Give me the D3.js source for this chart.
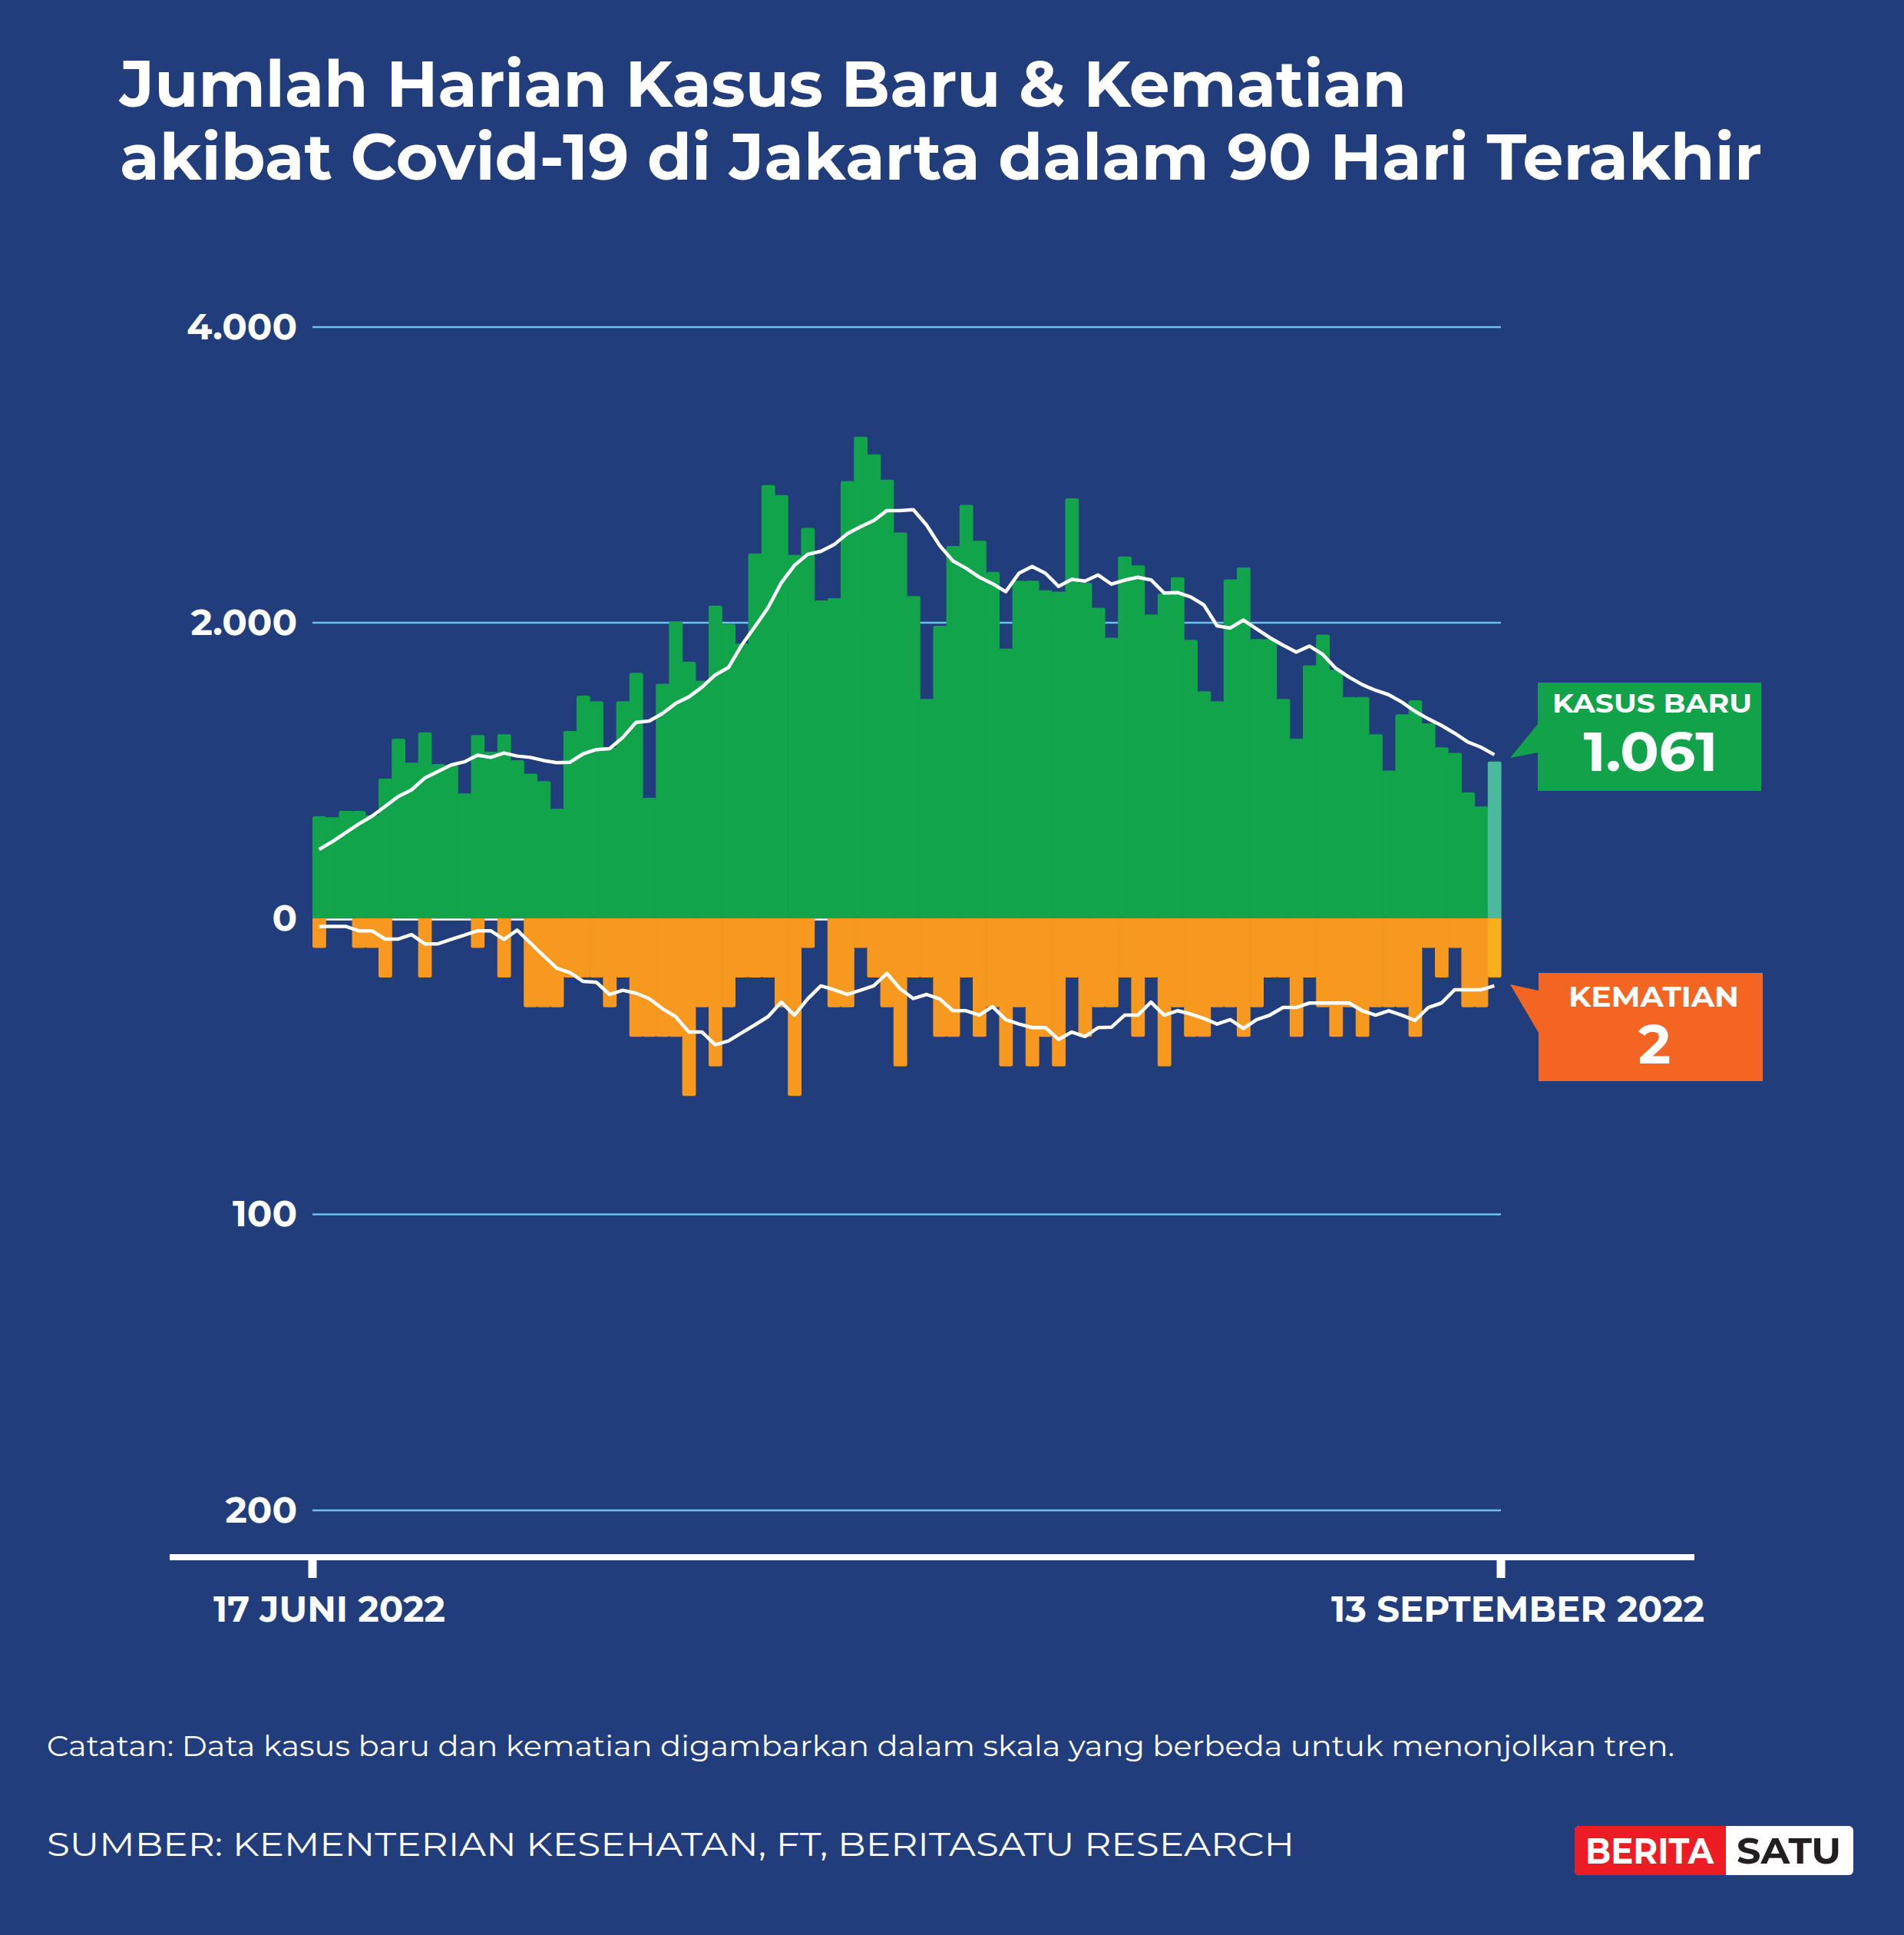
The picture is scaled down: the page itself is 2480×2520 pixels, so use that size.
<!DOCTYPE html>
<html>
<head>
<meta charset="utf-8">
<script src="https://cdn.jsdelivr.net/npm/d3@7"></script>
<style>
  html, body { margin: 0; padding: 0; background: #223d7b; }
  svg { display: block; }
</style>
</head>
<body>
<div id="chart"></div>
<script>
// daily new cases, 17 Jun - 13 Sep 2022 (90 days)
const cases = [
  691, 685, 727, 727, 697, 946, 1216, 1053, 1258, 1044,
  1038, 846, 1240, 1127, 1246, 1070, 979, 929, 742, 1267,
  1507, 1469, 1157, 1469, 1661, 816, 1587, 2009, 1736, 1608,
  2115, 1994, 1860, 2469, 2931, 2863, 2460, 2641, 2151, 2166,
  2958, 3258, 3139, 2967, 2611, 2181, 1484, 1979, 2519, 2798,
  2555, 2344, 1825, 2285, 2285, 2219, 2210, 2842, 2270, 2101,
  1899, 2448, 2388, 2056, 2196, 2308, 1884, 1537, 1469, 2293,
  2374, 1890, 1890, 1484, 1216, 1712, 1920, 1682, 1498, 1498,
  1246, 1000, 1380, 1475, 1320, 1157, 1119, 852, 757, 1061
];
// 7-day average of cases (white line)
const casesAvg = [
  466, 519, 579, 638, 691, 757, 825, 869, 949, 994,
  1038, 1059, 1104, 1089, 1119, 1098, 1089, 1068, 1053, 1056,
  1113, 1142, 1148, 1224, 1326, 1335, 1386, 1454, 1498, 1564,
  1647, 1697, 1848, 1973, 2101, 2270, 2388, 2463, 2483, 2528,
  2602, 2649, 2691, 2759, 2759, 2765, 2661, 2522, 2418, 2368,
  2308, 2264, 2210, 2335, 2380, 2335, 2246, 2293, 2282, 2323,
  2261, 2288, 2308, 2290, 2201, 2204, 2175, 2121, 1979, 1964,
  2018, 1958, 1899, 1848, 1801, 1842, 1786, 1691, 1632, 1581,
  1543, 1513, 1463, 1400, 1350, 1305, 1252, 1193, 1157, 1107
];
// deaths, in the units of the lower axis
const deaths = [
  10, 0, 0, 10, 10, 20, 0, 0, 20, 0,
  0, 0, 10, 0, 20, 0, 30, 30, 30, 20,
  20, 20, 30, 20, 40, 40, 40, 40, 60, 30,
  50, 30, 20, 20, 20, 30, 60, 10, 0, 30,
  30, 10, 20, 30, 50, 20, 20, 40, 40, 20,
  40, 30, 50, 30, 50, 40, 50, 20, 40, 30,
  30, 20, 40, 20, 50, 30, 40, 40, 30, 30,
  40, 30, 20, 20, 40, 20, 30, 40, 30, 40,
  30, 30, 30, 40, 10, 20, 10, 30, 30, 20
];
const deathsAvg = [
  2.7, 2.7, 2.7, 4.2, 4.2, 7.0, 7.0, 5.5, 8.6, 8.6,
  7.1, 5.7, 4.2, 4.2, 7.1, 4.0, 8.3, 12.6, 16.8, 18.3,
  21.3, 21.6, 25.7, 24.3, 25.3, 27.1, 30.5, 33.2, 38.4, 38.4,
  42.7, 41.4, 38.7, 36.0, 33.2, 28.3, 32.7, 27.2, 22.8, 24.1,
  25.7, 24.3, 22.8, 18.6, 23.8, 27.1, 25.7, 27.2, 31.2, 31.2,
  32.7, 29.8, 34.2, 35.7, 36.9, 36.9, 40.9, 38.4, 39.9, 36.9,
  36.8, 32.7, 32.7, 28.3, 32.7, 31.2, 32.3, 33.8, 35.7, 34.2,
  37.2, 34.2, 32.7, 30.1, 30.1, 28.6, 28.6, 28.6, 28.6, 31.2,
  32.7, 31.2, 32.7, 34.5, 30.1, 28.6, 24.1, 24.1, 24.1, 22.8
];
const caseTicks = [0, 2000, 4000];
const deathTicks = [100, 200];
const dateLabels = ['17 JUNI 2022', '13 SEPTEMBER 2022'];
const lastCases = 1061;
const lastDeaths = 2;

const W = 2480, H = 2520;
const BOLD = "Montserrat, 'Noto Sans', sans-serif";

const idID = d3.formatLocale({ decimal: ',', thousands: '.', grouping: [3], currency: ['Rp', ''] });
const fmt = idID.format(',');

const svg = d3.select('#chart').append('svg')
  .attr('width', W).attr('height', H);

svg.append('rect').attr('width', W).attr('height', H).attr('fill', '#223d7b');

// fixes the drawn width of a text to the width it has in the picture
const fit = (sel, w) => sel.attr('textLength', w).attr('lengthAdjust', 'spacingAndGlyphs');

// title
const title = svg.append('g').attr('fill', '#fff')
  .style('font-family', BOLD).style('font-weight', 700).style('font-size', '84px');
title.append('text').attr('x', 156).attr('y', 139).text('Jumlah Harian Kasus Baru & Kematian').call(fit, 1676);
title.append('text').attr('x', 156).attr('y', 234).text('akibat Covid-19 di Jakarta dalam 90 Hari Terakhir').call(fit, 2139);

// scales
const x = d3.scaleBand().domain(d3.range(cases.length)).range([407, 1955]).padding(0);
const yC = d3.scaleLinear().domain([0, 4000]).range([1196, 426]);
const yD = d3.scaleLinear().domain([0, 200]).range([1196, 1967]);
const zero = yC(0);

const defs = svg.append('defs');
defs.append('clipPath').attr('id', 'above').append('rect')
  .attr('x', 0).attr('y', 0).attr('width', W).attr('height', zero);
defs.append('clipPath').attr('id', 'below').append('rect')
  .attr('x', 0).attr('y', zero).attr('width', W).attr('height', H - zero);

// gridlines
const grid = svg.append('g').attr('stroke', '#6cc3ec').attr('stroke-width', 2.5);
grid.selectAll('.gc').data(caseTicks.filter(d => d > 0)).enter().append('line')
  .attr('x1', x.range()[0]).attr('x2', x.range()[1])
  .attr('y1', d => yC(d)).attr('y2', d => yC(d));
grid.selectAll('.gd').data(deathTicks).enter().append('line')
  .attr('x1', x.range()[0]).attr('x2', x.range()[1])
  .attr('y1', d => yD(d)).attr('y2', d => yD(d));

// tick labels
const caseAxis = svg.append('g').attr('transform', `translate(${x.range()[0]},0)`)
  .call(d3.axisLeft(yC).tickValues(caseTicks).tickFormat(fmt).tickSize(0).tickPadding(20));
const deathAxis = svg.append('g').attr('transform', `translate(${x.range()[0]},0)`)
  .call(d3.axisLeft(yD).tickValues(deathTicks).tickFormat(fmt).tickSize(0).tickPadding(20));
[caseAxis, deathAxis].forEach(a => {
  a.select('.domain').remove();
  a.selectAll('text').attr('fill', '#fff')
    .style('font-family', BOLD).style('font-weight', 700).style('font-size', '48px');
});

// case bars
const bw = x.bandwidth();
svg.append('g').attr('clip-path', 'url(#above)')
  .selectAll('rect').data(cases).enter().append('rect')
  .attr('x', (d, i) => x(i))
  .attr('width', bw + 0.6)
  .attr('y', d => yC(d))
  .attr('height', d => zero - yC(d) + 6)
  .attr('rx', 2.5)
  .attr('fill', (d, i) => i === cases.length - 1 ? '#4bb99b' : '#11a44b');

// zero line
svg.append('line')
  .attr('x1', x.range()[0]).attr('x2', x.range()[1])
  .attr('y1', zero + 1.5).attr('y2', zero + 1.5)
  .attr('stroke', '#fff').attr('stroke-width', 2.5);

// death bars
svg.append('g').attr('clip-path', 'url(#below)')
  .selectAll('rect').data(deaths).enter().append('rect')
  .attr('x', (d, i) => x(i))
  .attr('width', bw + 0.6)
  .attr('y', zero - 6)
  .attr('height', d => yD(d) - zero + 6)
  .attr('rx', 2.5)
  .attr('fill', (d, i) => i === deaths.length - 1 ? '#f9ae1d' : '#f7991f');

// 7-day averages
const cx = (d, i) => x(i) + bw / 2;
svg.append('path').datum(casesAvg)
  .attr('d', d3.line().x(cx).y(d => yC(d)))
  .attr('fill', 'none').attr('stroke', '#fff').attr('stroke-width', 4.5).attr('stroke-linejoin', 'round');
svg.append('path').datum(deathsAvg)
  .attr('d', d3.line().x(cx).y(d => yD(d)))
  .attr('fill', 'none').attr('stroke', '#fff').attr('stroke-width', 4.5).attr('stroke-linejoin', 'round');

// date axis
const axisY = 2028;
svg.append('line').attr('x1', 221).attr('x2', 2207).attr('y1', axisY).attr('y2', axisY)
  .attr('stroke', '#fff').attr('stroke-width', 8);
const ends = x.range();
svg.selectAll('.tick-x').data(ends).enter().append('rect')
  .attr('x', d => d - 5.5).attr('y', axisY).attr('width', 11).attr('height', 27).attr('fill', '#fff');
svg.selectAll('.lab-x').data(dateLabels).enter().append('text')
  .attr('x', (d, i) => ends[i] + 22).attr('y', 2112)
  .attr('text-anchor', 'middle').attr('fill', '#fff')
  .style('font-family', BOLD).style('font-weight', 700).style('font-size', '48px')
  .text(d => d)
  .each(function (d, i) { d3.select(this).call(fit, i === 0 ? 302 : 486); });

// callouts
const tipX = ends[1] + 12;
const calloutC = svg.append('g');
calloutC.append('path')
  .attr('d', `M2003,943 L${tipX},${yC(casesAvg[casesAvg.length - 1]) + 4} L2003,980 Z`)
  .attr('fill', '#12a24a');
calloutC.append('rect').attr('x', 2003).attr('y', 889).attr('width', 291).attr('height', 141).attr('fill', '#12a24a');
calloutC.append('text').attr('x', 2152).attr('y', 928).attr('text-anchor', 'middle').attr('fill', '#fff')
  .style('font-family', BOLD).style('font-weight', 700).style('font-size', '35px')
  .text('KASUS BARU').call(fit, 260);
calloutC.append('text').attr('x', 2150).attr('y', 1004).attr('text-anchor', 'middle').attr('fill', '#fff')
  .style('font-family', BOLD).style('font-weight', 700).style('font-size', '72px')
  .text(fmt(lastCases)).call(fit, 175);

const calloutD = svg.append('g');
calloutD.append('path')
  .attr('d', `M2004,1290 L${tipX},${yD(deathsAvg[deathsAvg.length - 1]) - 2} L2004,1345 Z`)
  .attr('fill', '#f26522');
calloutD.append('rect').attr('x', 2004).attr('y', 1267).attr('width', 292).attr('height', 141).attr('fill', '#f26522');
calloutD.append('text').attr('x', 2154).attr('y', 1311).attr('text-anchor', 'middle').attr('fill', '#fff')
  .style('font-family', BOLD).style('font-weight', 700).style('font-size', '36px')
  .text('KEMATIAN').call(fit, 222);
calloutD.append('text').attr('x', 2155).attr('y', 1385).attr('text-anchor', 'middle').attr('fill', '#fff')
  .style('font-family', BOLD).style('font-weight', 700).style('font-size', '72px')
  .text(fmt(lastDeaths));

// footer
svg.append('text').attr('x', 61).attr('y', 2287).attr('fill', '#fff')
  .style('font-family', "Montserrat, 'Noto Sans', sans-serif").style('font-weight', 400).style('font-size', '38px')
  .text('Catatan: Data kasus baru dan kematian digambarkan dalam skala yang berbeda untuk menonjolkan tren.')
  .call(fit, 2120);
svg.append('text').attr('x', 61).attr('y', 2417).attr('fill', '#fff')
  .style('font-family', "Montserrat, 'Noto Sans', sans-serif").style('font-weight', 400).style('font-size', '44px')
  .text('SUMBER: KEMENTERIAN KESEHATAN, FT, BERITASATU RESEARCH')
  .call(fit, 1625);

// logo
const logo = svg.append('g');
logo.append('rect').attr('x', 2051).attr('y', 2378).attr('width', 363).attr('height', 64).attr('rx', 6).attr('fill', '#fff');
logo.append('path')
  .attr('d', 'M2248,2378 L2057,2378 Q2051,2378 2051,2384 L2051,2436 Q2051,2442 2057,2442 L2248,2442 Z')
  .attr('fill', '#ed1c24');
logo.append('text').attr('x', 2065).attr('y', 2427).attr('fill', '#fff')
  .style('font-family', BOLD).style('font-weight', 700).style('font-size', '47px')
  .text('BERITA').call(fit, 167);
logo.append('text').attr('x', 2262).attr('y', 2427).attr('fill', '#231f20')
  .style('font-family', BOLD).style('font-weight', 700).style('font-size', '47px')
  .text('SATU').call(fit, 136);
</script>
</body>
</html>
